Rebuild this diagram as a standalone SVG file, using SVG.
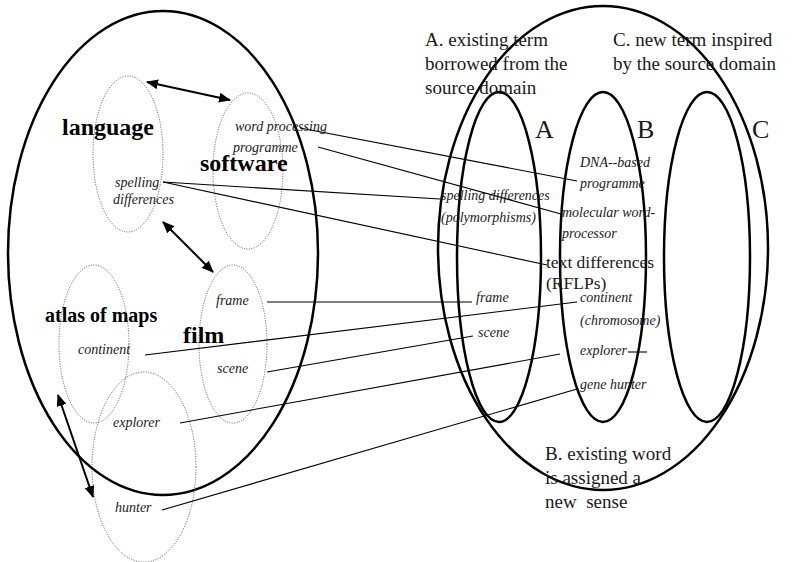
<svg xmlns="http://www.w3.org/2000/svg" width="792" height="562" viewBox="0 0 792 562" font-family="'Liberation Serif', 'Times New Roman', serif">
  <defs>
    <marker id="head" viewBox="0 0 12 10" refX="11" refY="5" markerWidth="12" markerHeight="10" markerUnits="userSpaceOnUse" orient="auto-start-reverse">
      <path d="M0,0 L12,5 L0,10 Z" fill="#000"/>
    </marker>
    <style>
      .domain { fill: none; stroke: #000; stroke-width: 2.5; }
      .sub { fill: none; stroke: #555; stroke-width: 1; stroke-dasharray: 1 1.5; }
      .link { fill: none; stroke: #000; stroke-width: 1.1; }
      .rel { fill: none; stroke: #000; stroke-width: 2; marker-start: url(#head); marker-end: url(#head); }
      text { font-family: 'Liberation Serif', 'Times New Roman', serif; fill: #1a1a1a; }
      .title { font-weight: bold; fill: #000; }
      .it { font-style: italic; font-size: 14px; }
      .note { font-size: 19px; }
      .cat { font-size: 26px; }
    </style>
  </defs>

  <!-- source domain -->
  <g id="source-domain">
    <ellipse class="domain" cx="163" cy="253" rx="155" ry="242"/>
  </g>

  <!-- target domain with categories A, B, C -->
  <g id="target-domain">
    <ellipse class="domain" cx="603" cy="248" rx="165" ry="242"/>
  </g>
  <g id="category-A">
    <ellipse class="domain" cx="499" cy="257" rx="42" ry="165"/>
    <text class="cat" x="535" y="138">A</text>
  </g>
  <g id="category-B">
    <ellipse class="domain" cx="603" cy="257" rx="43" ry="165"/>
    <text class="cat" x="637" y="138">B</text>
  </g>
  <g id="category-C">
    <ellipse class="domain" cx="707" cy="257" rx="43" ry="165"/>
    <text class="cat" x="752" y="138">C</text>
  </g>

  <!-- source sub-domains -->
  <g id="language">
    <ellipse class="sub" cx="128" cy="154" rx="35" ry="78"/>
    <text class="title" x="62" y="135" font-size="24">language</text>
    <text class="it" x="115" y="187">spelling</text>
    <text class="it" x="113" y="204">differences</text>
  </g>
  <g id="software">
    <ellipse class="sub" cx="248" cy="171" rx="35" ry="78"/>
    <text class="it" x="235" y="131">word processing</text>
    <text class="it" x="233" y="152">programme</text>
    <text class="title" x="200" y="171" font-size="24">software</text>
  </g>
  <g id="atlas">
    <ellipse class="sub" cx="94" cy="344" rx="35" ry="79"/>
    <text class="title" x="45" y="322" font-size="20">atlas of maps</text>
    <text class="it" x="78" y="354">continent</text>
  </g>
  <g id="film">
    <ellipse class="sub" cx="233" cy="344" rx="34" ry="79"/>
    <text class="it" x="216" y="305">frame</text>
    <text class="title" x="183" y="343" font-size="24">film</text>
    <text class="it" x="217" y="373" font-size="13">scene</text>
  </g>
  <g id="exploration">
    <ellipse class="sub" cx="144" cy="467" rx="52" ry="95"/>
    <text class="it" x="113" y="427">explorer</text>
    <text class="it" x="115" y="512">hunter</text>
  </g>

  <!-- target terms -->
  <g id="term-dna-programme">
    <text class="it" x="580" y="167" font-size="16">DNA--based</text>
    <text class="it" x="580" y="188">programme</text>
  </g>
  <g id="term-polymorphisms">
    <text class="it" x="441" y="200">spelling differences</text>
    <text class="it" x="441" y="222">(polymorphisms)</text>
  </g>
  <g id="term-word-processor">
    <text class="it" x="562" y="217">molecular word-</text>
    <text class="it" x="562" y="238">processor</text>
  </g>
  <g id="term-rflps">
    <text x="546" y="268" font-size="17.5">text differences</text>
    <text x="546" y="289" font-size="17.5">(RFLPs)</text>
  </g>
  <g id="term-frame">
    <text class="it" x="476" y="302">frame</text>
  </g>
  <g id="term-chromosome">
    <text class="it" x="580" y="302">continent</text>
    <text class="it" x="580" y="325">(chromosome)</text>
  </g>
  <g id="term-scene">
    <text class="it" x="478" y="337" font-size="12.5">scene</text>
  </g>
  <g id="term-explorer">
    <text class="it" x="580" y="355">explorer</text>
  </g>
  <g id="term-gene-hunter">
    <text class="it" x="580" y="389">gene hunter</text>
  </g>

  <!-- category notes -->
  <g id="note-A">
    <text class="note" x="425" y="46">A. existing term</text>
    <text class="note" x="425" y="70">borrowed from the</text>
    <text class="note" x="425" y="94">source domain</text>
  </g>
  <g id="note-C">
    <text class="note" x="613" y="46">C. new term inspired</text>
    <text class="note" x="613" y="70">by the source domain</text>
  </g>
  <g id="note-B">
    <text class="note" x="545" y="460">B. existing word</text>
    <text class="note" x="545" y="484">is assigned a</text>
    <text class="note" x="545" y="508">new&#160; sense</text>
  </g>

  <!-- connectors -->
  <g id="connectors">
    <line class="rel" x1="147" y1="82" x2="230" y2="100"/>
    <line class="rel" x1="163" y1="222" x2="213" y2="272"/>
    <line class="rel" x1="58" y1="395" x2="93" y2="497"/>

    <line class="link" x1="300" y1="128" x2="577" y2="181"/>
    <line class="link" x1="318" y1="147" x2="561" y2="214"/>
    <line class="link" x1="163" y1="182" x2="440" y2="199"/>
    <line class="link" x1="163" y1="182" x2="547" y2="265"/>
    <line class="link" x1="267" y1="302" x2="472" y2="302"/>
    <line class="link" x1="145" y1="355" x2="577" y2="302"/>
    <line class="link" x1="267" y1="372" x2="473" y2="336"/>
    <line class="link" x1="180" y1="423" x2="560" y2="354"/>
    <line class="link" x1="162" y1="510" x2="577" y2="389"/>
    <line class="link" x1="628" y1="352" x2="647" y2="352"/>
  </g>
</svg>
